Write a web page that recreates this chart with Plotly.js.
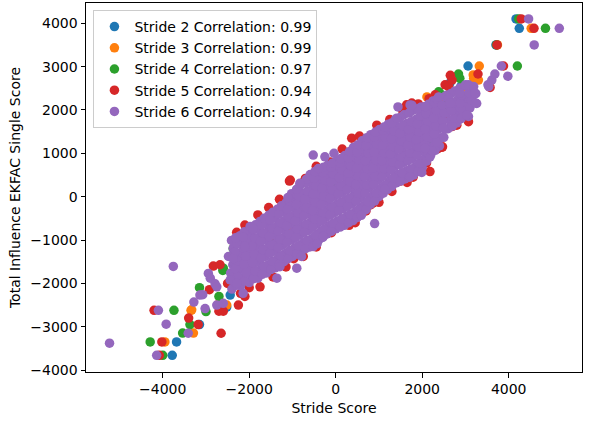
<!DOCTYPE html>
<html>
<head>
<meta charset="utf-8">
<script src="https://cdn.plot.ly/plotly-3.0.1.min.js"></script>
<style>html,body{margin:0;padding:0;background:#fff;}#chart{width:592px;height:425px;}</style>
</head>
<body>
<div id="chart"></div>
<script>
// Series labels
const seriesNames = [
  "Stride 2 Correlation: 0.99",
  "Stride 3 Correlation: 0.99",
  "Stride 4 Correlation: 0.97",
  "Stride 5 Correlation: 0.94",
  "Stride 6 Correlation: 0.94"
];
const seriesColors = ["#1f77b4", "#ff7f0e", "#2ca02c", "#d62728", "#9467bd"];

// [Stride score, Total influence EKFAC single score]
const stride2Points = [
  [-3680,-3350],[-3780,-3660],[-3150,-2950],[-2520,-2545],[-2440,-2270],[4170,4100],[4245,3885],
  [3706,3500],[3060,3015],[2640,2620],[-2000,-1650],[-1500,-1150],[-1000,-750],[-500,-380],
  [0,60],[500,430],[1000,820],[1500,1200],[2000,1650],[2500,2100],[2900,2550]
];
const stride3Points = [
  [-3950,-3350],[-3345,-2620],[-3290,-3145],[-2675,-2430],[-2520,-2500],[-3330,-2610],[4520,3885],
  [3740,3500],[3320,3015],[3190,2730],[3180,2810],[3300,2690],[2110,2300],[-2400,-2050],
  [-2000,-1600],[-1500,-1100],[-1000,-700],[-500,-350],[0,100],[500,450],[1000,850],
  [1500,1250],[2000,1700],[2500,2150],[2900,2500]
];
const stride4Points = [
  [-4290,-3350],[-4000,-3660],[-3740,-2620],[-3370,-2950],[-3540,-3145],[-3150,-2100],[-3000,-2650],
  [-2610,-1700],[-2600,-1650],[-2370,-1200],[-1150,-140],[-710,385],[-10,-700],[-130,780],
  [4230,4100],[4850,3885],[4200,3015],[3720,3500],[2840,2830],[2870,2730],[2950,2080],
  [2380,2420],[2410,2385],[2260,1230],[2190,1150],[-2000,-1500],[-1500,-1000],[-1000,-600],
  [-500,-300],[0,200],[500,500],[1000,900],[1500,1300],[2000,1700],[2500,2100],[-2700,-2300]
];
const stride5Points = [
  [-4200,-2620],[-4020,-3350],[-4080,-3660],[-3180,-2950],[-2650,-3150],[-2920,-2145],[-2830,-1600],
  [-2675,-1570],[-2700,-2640],[-2250,-2500],[-2290,-820],[-2100,-655],[-1070,360],[-990,0],
  [-970,-1430],[-450,-1160],[-280,-890],[310,-660],[370,1350],[-90,730],[-130,800],
  [1490,360],[1790,450],[2180,580],[2470,1150],[2450,1140],[2800,1650],[3070,1730],
  [3570,2520],[3290,2830],[3880,3015],[4290,4100],[4585,3885],[3730,3500],[2650,2800],
  [2530,2580],[2160,2260],[1760,2160],[1640,2120],[1910,2140],[2610,2540],[2690,2690],
  [800,-190],[-1050,385],[860,-150],[-2600,-2640],[-2000,-2100],[-2200,-2230],
  [-1800,-420],[-1550,-250],[-1300,-60],[-700,420],[-450,700],[150,1100],[550,1400],
  [950,1650],[1250,1780],[1550,1980],[2300,2350],
  [-2100,-2300],[-1750,-2080],[-1450,-1850],[-1150,-1620],[-750,-1380],[-100,-830],[450,-600],
  [700,-330],[1000,-130],[1300,120],[1650,330],[2100,780],[2350,1100],[2700,1620],
  [-1500,-900],[-1000,-500],[-500,-200],[0,100],[500,400],[1000,800],[1500,1100],
  [2000,1400],[-2000,-1400],[2500,1900],[-3400,-2800],[-2500,-2000]
];
const stride6Core = [
  [-2400,-2130],[-2360,-1950],[-2430,-1760],[-2380,-1570],[-2440,-1380],[-2370,-1190],[-2410,-1010],
  [-2200,-2060],[-2160,-1870],[-2230,-1680],[-2180,-1490],[-2240,-1300],[-2170,-1100],[-2210,-900],
  [-2000,-1980],[-1960,-1800],[-2030,-1620],[-1980,-1430],[-2040,-1240],[-1970,-1060],[-2010,-880],[-1950,-730],
  [-1800,-1880],[-1760,-1700],[-1830,-1510],[-1780,-1320],[-1840,-1130],[-1770,-940],[-1810,-750],[-1750,-570],
  [-1600,-1760],[-1560,-1570],[-1630,-1380],[-1580,-1190],[-1640,-1000],[-1570,-810],[-1610,-620],[-1550,-430],
  [-1400,-1640],[-1360,-1450],[-1430,-1260],[-1380,-1070],[-1440,-880],[-1370,-690],[-1410,-490],[-1350,-290],
  [-1200,-1500],[-1160,-1310],[-1230,-1120],[-1180,-930],[-1240,-740],[-1170,-550],[-1210,-350],[-1150,-140],
  [-1000,-1380],[-960,-1190],[-1030,-1000],[-980,-810],[-1040,-620],[-970,-430],[-1010,-240],[-950,-50],[-1020,70],
  [-800,-1260],[-760,-1070],[-830,-880],[-780,-690],[-840,-500],[-770,-310],[-810,-120],[-750,80],[-820,270],
  [-600,-1160],[-560,-970],[-630,-780],[-580,-590],[-640,-400],[-570,-210],[-610,-20],[-550,170],[-620,350],[-590,510],
  [-400,-1010],[-360,-820],[-430,-630],[-380,-440],[-440,-250],[-370,-60],[-410,130],[-350,320],[-420,490],[-390,640],
  [-200,-860],[-160,-670],[-230,-480],[-180,-290],[-240,-100],[-170,90],[-210,280],[-150,460],[-220,620],[-190,720],
  [0,-740],[40,-560],[-30,-370],[20,-180],[-40,10],[30,200],[-10,390],[50,570],[-20,720],[10,810],
  [200,-660],[240,-470],[170,-280],[220,-90],[160,100],[230,290],[190,480],[250,660],[180,820],[210,950],
  [400,-550],[440,-360],[370,-170],[420,20],[360,210],[430,400],[390,590],[450,770],[380,950],[410,1140],
  [600,-400],[640,-210],[570,-20],[620,170],[560,360],[630,550],[590,740],[650,920],[580,1100],[610,1290],
  [800,-180],[840,10],[770,200],[820,390],[760,580],[830,770],[790,950],[850,1130],[780,1300],[810,1430],
  [1000,0],[1040,190],[970,380],[1020,570],[960,750],[1030,930],[990,1110],[1050,1290],[980,1450],[1010,1550],
  [1200,170],[1240,360],[1170,550],[1220,730],[1160,910],[1230,1090],[1190,1270],[1250,1440],[1180,1610],[1210,1670],
  [1400,320],[1440,510],[1370,700],[1420,880],[1360,1060],[1430,1240],[1390,1420],[1450,1600],[1380,1780],
  [1600,410],[1640,600],[1570,790],[1620,970],[1560,1150],[1630,1330],[1590,1510],[1650,1690],[1580,1890],
  [1800,500],[1840,690],[1770,880],[1820,1060],[1760,1240],[1830,1420],[1790,1600],[1850,1780],[1780,1990],
  [2000,670],[2040,860],[1970,1050],[2020,1230],[1960,1410],[2030,1590],[1990,1770],[2050,1950],[1980,2070],
  [2200,970],[2240,1160],[2170,1350],[2220,1530],[2160,1710],[2230,1890],[2190,2060],[2250,2210],
  [2400,1170],[2440,1360],[2370,1550],[2420,1730],[2360,1910],[2430,2090],[2390,2290],
  [2600,1570],[2640,1750],[2570,1930],[2620,2110],[2560,2340],
  [2800,1700],[2840,1880],[2770,2060],[2820,2240],[2760,2440],
  [3000,1920],[3040,2100],[2970,2280],[3020,2560],
  [3200,2170],[3240,2380]
];
const stride6Between = [
  [-2300,-2040],[-2265,-1850],[-2325,-1660],[-2285,-1470],[-2335,-1280],[-2275,-1090],[-2315,-950],
  [-2100,-1940],[-2065,-1750],[-2125,-1560],[-2085,-1370],[-2135,-1180],[-2075,-990],[-2115,-810],
  [-1900,-1890],[-1865,-1710],[-1925,-1520],[-1885,-1330],[-1935,-1140],[-1875,-950],[-1915,-760],[-1855,-650],
  [-1700,-1790],[-1665,-1600],[-1725,-1410],[-1685,-1220],[-1735,-1030],[-1675,-840],[-1715,-650],[-1655,-500],
  [-1500,-1680],[-1465,-1490],[-1525,-1300],[-1485,-1110],[-1535,-920],[-1475,-730],[-1515,-540],[-1455,-360],
  [-1300,-1550],[-1265,-1360],[-1325,-1170],[-1285,-980],[-1335,-790],[-1275,-600],[-1315,-400],[-1255,-210],
  [-1100,-1430],[-1065,-1240],[-1125,-1050],[-1085,-860],[-1135,-670],[-1075,-480],[-1115,-290],[-1055,-100],[-1105,-20],
  [-900,-1320],[-865,-1130],[-925,-940],[-885,-750],[-935,-560],[-875,-370],[-915,-180],[-855,10],[-905,170],
  [-700,-1200],[-665,-1010],[-725,-820],[-685,-630],[-735,-440],[-675,-250],[-715,-60],[-655,130],[-705,320],[-680,400],
  [-500,-1080],[-465,-890],[-525,-700],[-485,-510],[-535,-320],[-475,-130],[-515,60],[-455,250],[-505,430],[-480,580],
  [-300,-940],[-265,-750],[-325,-560],[-285,-370],[-335,-180],[-275,10],[-315,200],[-255,390],[-305,560],[-280,680],
  [-100,-800],[-65,-610],[-125,-420],[-85,-230],[-135,-40],[-75,150],[-115,340],[-55,520],[-105,680],[-80,770],
  [100,-700],[135,-510],[75,-320],[115,-130],[65,60],[125,250],[85,440],[145,620],[95,780],[120,880],
  [300,-600],[335,-410],[275,-220],[315,-30],[265,160],[325,350],[285,540],[345,720],[295,890],[320,1040],
  [500,-480],[535,-290],[475,-100],[515,90],[465,280],[525,470],[485,660],[545,840],[495,1020],[520,1200],
  [700,-300],[735,-110],[675,80],[715,270],[665,460],[725,650],[685,830],[745,1010],[695,1190],[720,1360],
  [900,-100],[935,90],[875,280],[915,470],[865,660],[925,850],[885,1030],[945,1210],[895,1380],[920,1490],
  [1100,80],[1135,270],[1075,460],[1115,650],[1065,830],[1125,1010],[1085,1190],[1145,1370],[1095,1530],[1120,1610],
  [1300,240],[1335,430],[1275,620],[1315,800],[1265,980],[1325,1160],[1285,1340],[1345,1520],[1295,1700],
  [1500,360],[1535,550],[1475,740],[1515,920],[1465,1100],[1525,1280],[1485,1460],[1545,1640],[1495,1830],
  [1700,450],[1735,640],[1675,830],[1715,1010],[1665,1190],[1725,1370],[1685,1550],[1745,1730],[1695,1930],
  [1900,580],[1935,770],[1875,960],[1915,1140],[1865,1320],[1925,1500],[1885,1680],[1945,1860],[1895,2030],
  [2100,820],[2135,1010],[2075,1200],[2115,1380],[2065,1560],[2125,1740],[2085,1920],[2145,2130],
  [2300,1070],[2335,1260],[2275,1450],[2315,1630],[2265,1810],[2325,1990],[2285,2170],[2345,2250],
  [2500,1370],[2535,1560],[2475,1750],[2515,1930],[2465,2110],[2525,2310],
  [2700,1630],[2735,1810],[2675,1990],[2715,2170],[2665,2380],
  [2900,1800],[2935,1980],[2875,2160],[2915,2340],[2865,2500],
  [3100,2040],[3135,2220],[3075,2400]
];
const stride6Outliers = [
  [-5230,-3380],[-4100,-2620],[-3755,-1610],[-3920,-2940],[-3410,-3150],[-4140,-3660],[-3075,-2260],
  [-3280,-2430],[-3020,-2580],[-2750,-2500],[-2600,-2460],[-2945,-1770],[-2900,-1880],[-2790,-2010],
  [-2750,-2080],[-3140,-2270],[-2440,-1920],[-2290,-2000],[-2140,-2230],[-2480,-1380],[-2370,-1430],
  [-2100,-1150],[-1980,-690],[-1905,-740],[-2140,-930],[-1360,-1880],[-1290,-1615],[-900,-1650],
  [-790,-1380],[-520,-1150],[-430,-1085],[-290,-920],[-520,960],[-250,920],[-40,1000],[-400,650],
  [-830,310],[590,-430],[900,-620],[1140,170],[1990,560],[2180,920],[2220,1060],[2490,1580],
  [3070,1850],[3030,1880],[3230,2160],[3260,2150],[3540,2540],[3520,2580],[3610,2690],[3680,2830],
  [3830,3015],[3980,2780],[4460,4100],[5170,3885],[4590,3500],[2380,2300],[2070,2080],[2610,2270],
  [2640,2160],[2840,2420],[2870,2390],[3000,2580],[3070,2580],[3190,2540],[3220,2390],[1440,2070],
  [1410,1810],[1720,2116],[1760,2110],[2070,1120],[1720,460]
];
const stride6Points = stride6Core.concat(stride6Between, stride6Outliers);

const xTicks = [-4000, -2000, 0, 2000, 4000];
const yTicks = [-4000, -3000, -2000, -1000, 0, 1000, 2000, 3000, 4000];

const allSeries = [stride2Points, stride3Points, stride4Points, stride5Points, stride6Points];
const FONT = "DejaVu Sans, Liberation Sans, sans-serif";
const FS = 14;

const traces = allSeries.map((pts, i) => ({
  type: "scatter",
  mode: "markers",
  name: seriesNames[i],
  x: pts.map(p => p[0]),
  y: pts.map(p => p[1]),
  marker: {color: seriesColors[i], size: 9.5, line: {width: 0}}
}));

const axisCommon = {
  showgrid: false,
  zeroline: false,
  showline: true,
  mirror: true,
  linecolor: "#000",
  linewidth: 1,
  ticks: "outside",
  ticklen: 4.5,
  tickwidth: 1,
  tickcolor: "#000",
  tickfont: {family: FONT, size: FS, color: "#000"}
};

const layout = {
  width: 592,
  height: 425,
  margin: {l: 86, r: 10, t: 3, b: 53},
  paper_bgcolor: "#fff",
  plot_bgcolor: "#fff",
  font: {family: FONT, size: FS, color: "#000"},
  showlegend: true,
  xaxis: Object.assign({}, axisCommon, {
    range: [-5774, 5695],
    tickmode: "array",
    tickvals: xTicks,
    title: {text: "Stride Score", font: {family: FONT, size: FS, color: "#000"}, standoff: 6}
  }),
  yaxis: Object.assign({}, axisCommon, {
    range: [-4044, 4468],
    tickmode: "array",
    tickvals: yTicks,
    title: {text: "Total Influence EKFAC Single Score", font: {family: FONT, size: FS, color: "#000"}, standoff: 6}
  }),
  legend: {
    x: 0.015, y: 0.981, xanchor: "left", yanchor: "top",
    bgcolor: "rgba(255,255,255,0.8)",
    bordercolor: "#cccccc",
    borderwidth: 1,
    font: {family: FONT, size: FS, color: "#000"}
  }
};

Plotly.newPlot("chart", traces, layout, {displayModeBar: false, staticPlot: true});
</script>
</body>
</html>
